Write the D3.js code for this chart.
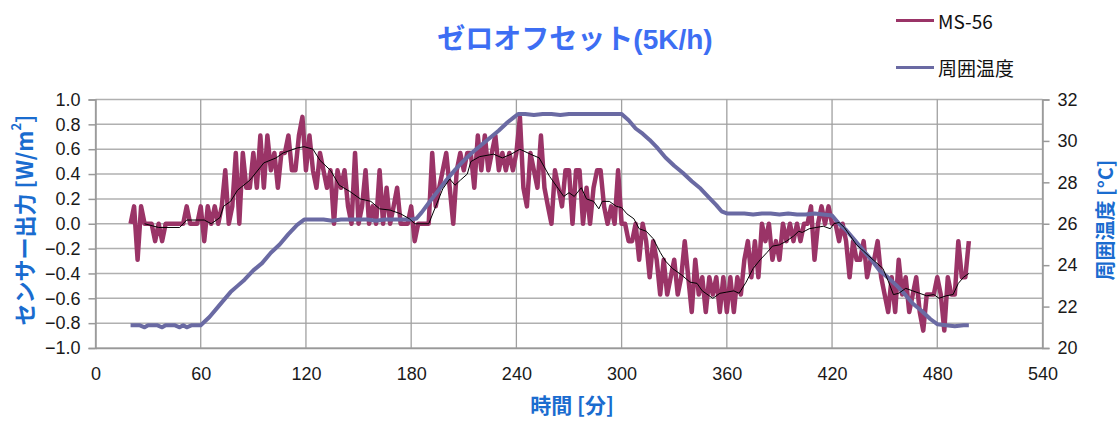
<!DOCTYPE html>
<html><head><meta charset="utf-8">
<script src="https://cdn.jsdelivr.net/npm/d3@7"></script>
<style>
html,body{margin:0;padding:0;background:#fff;}
svg{display:block;}
</style></head>
<body>
<svg id="chart" width="1120" height="421"></svg>
<script>
// ---- data ----
const chartTitle = "ゼロオフセット(5K/h)";
const seriesNames = ["MS-56", "周囲温度"];
const xTicks = [0, 60, 120, 180, 240, 300, 360, 420, 480, 540];
const yLeftTicks = [-1.0, -0.8, -0.6, -0.4, -0.2, 0.0, 0.2, 0.4, 0.6, 0.8, 1.0];
const yRightTicks = [20, 22, 24, 26, 28, 30, 32];

// MS-56 sensor output, sampled every 2 min from minute 20
const msTimes = d3.range(20, 500, 2);
const msValues = [
 0, 0.14, -0.29, 0.14, 0, 0, 0, -0.14, 0, -0.14,
 0, 0, 0, 0, 0, 0, 0.14, 0, 0, 0,
 0.14, -0.14, 0.14, 0, 0.14, 0, 0.14, 0.43, 0, 0.14,
 0.57, 0, 0.57, 0.29, 0.29, 0.57, 0.29, 0.71, 0.29, 0.71,
 0.43, 0.57, 0.29, 0.57, 0.57, 0.71, 0.43, 0.43, 0.71, 0.86,
 0.43, 0.71, 0.43, 0.29, 0.57, 0.43, 0.29, 0.43, 0, 0.43,
 0.29, 0.43, 0.14, 0, 0.57, 0, 0.14, 0.43, 0, 0.14,
 0, 0.43, 0, 0.29, 0, 0.14, 0.29, 0, 0, 0,
 0.14, -0.14, 0, 0, 0, 0, 0.57, 0.14, 0.29, 0.43,
 0.57, 0.29, 0, 0.43, 0.57, 0.43, 0.57, 0.57, 0.29, 0.71,
 0.43, 0.71, 0.43, 0.57, 0.71, 0.43, 0.57, 0.43, 0.57, 0.43,
 0.57, 0.86, 0.29, 0.14, 0.57, 0.43, 0.29, 0.71, 0.29, 0.14,
 0, 0.43, 0.29, 0.14, 0.43, 0.43, 0, 0.43, 0.43, 0,
 0.29, 0, 0.29, 0.43, 0.43, 0.14, 0, 0.14, 0, 0.43,
 0, 0, -0.14, -0.14, 0, -0.29, 0, -0.14, -0.43, -0.14,
 -0.29, -0.57, -0.29, -0.57, -0.43, -0.29, -0.57, -0.43, -0.14, -0.43,
 -0.71, -0.29, -0.57, -0.43, -0.71, -0.43, -0.57, -0.43, -0.71, -0.43,
 -0.71, -0.43, -0.71, -0.43, -0.57, -0.29, -0.14, -0.43, -0.14, -0.43,
 0, -0.14, 0, -0.29, -0.14, -0.29, 0, -0.14, 0, -0.14,
 0, -0.14, 0, 0, 0.14, -0.29, 0, 0.14, 0, 0.14,
 0, 0, -0.14, 0, -0.14, -0.43, -0.14, -0.29, -0.29, -0.14,
 -0.43, -0.29, -0.29, -0.14, -0.43, -0.57, -0.71, -0.43, -0.71, -0.29,
 -0.57, -0.43, -0.71, -0.57, -0.43, -0.71, -0.86, -0.57, -0.57, -0.57,
 -0.43, -0.57, -0.86, -0.43, -0.57, -0.57, -0.14, -0.43, -0.43, -0.14
];

// moving-average trend of MS-56 (thin black line)
const trendTimes = [28,36,48,52,62,66,71,73,77,81,88,96,103,107,115,119,124,128,134,139,145,151,157,162,168,174,179,182,190,194,198,202,205,208,212,214,219,227,232,237,242,248,253,259,263,267,270,273,277,280,284,287,289,293,297,300,303,307,310,314,318,322,325,329,334,339,343,346,352,356,360,364,367,371,375,379,383,386,390,394,398,401,403,407,411,415,419,421,424,427,430,434,438,441,445,449,452,455,458,462,466,470,474,478,481,485,489,492,495,498];
const trendValues = [0,-0.03,-0.03,0.03,0.03,0,0.05,0.14,0.18,0.27,0.35,0.49,0.53,0.57,0.61,0.62,0.6,0.51,0.43,0.31,0.26,0.2,0.18,0.12,0.11,0.08,0.04,0,0,0.14,0.28,0.36,0.31,0.35,0.4,0.5,0.54,0.56,0.53,0.56,0.6,0.56,0.53,0.38,0.3,0.22,0.25,0.22,0.29,0.2,0.18,0.12,0.18,0.18,0.14,0.13,0.08,0.04,-0.04,-0.06,-0.12,-0.23,-0.3,-0.36,-0.41,-0.47,-0.48,-0.54,-0.6,-0.56,-0.55,-0.54,-0.56,-0.47,-0.36,-0.29,-0.23,-0.18,-0.17,-0.14,-0.1,-0.06,-0.07,-0.04,-0.03,-0.02,-0.04,0,0.01,-0.03,-0.09,-0.17,-0.22,-0.26,-0.31,-0.36,-0.46,-0.57,-0.56,-0.52,-0.54,-0.56,-0.58,-0.57,-0.6,-0.58,-0.57,-0.48,-0.43,-0.4];

// ambient temperature [°C]
const tempTimes = [20,25,28,30,35,38,40,45,48,50,52,55,60,65,70,73,77,81,85,90,95,100,105,110,115,119,125,130,135,140,150,155,160,165,170,175,180,183,186,190,195,200,205,210,215,220,225,230,235,238,241,245,250,255,260,265,270,275,280,285,290,295,300,304,308,312,316,320,325,330,335,340,345,350,354,357,360,365,370,375,380,385,390,395,400,405,410,415,420,424,428,433,438,443,447,452,457,462,466,471,476,480,485,490,495,498];
const tempValues = [21.1,21.1,21.0,21.1,21.1,21.0,21.1,21.1,21.0,21.1,21.0,21.1,21.1,21.5,22.0,22.3,22.7,23.0,23.3,23.75,24.1,24.6,25.0,25.5,25.95,26.2,26.2,26.2,26.15,26.2,26.2,26.2,26.15,26.2,26.2,26.2,26.2,26.25,26.55,27.0,27.55,28.1,28.6,29.05,29.45,29.8,30.15,30.5,30.9,31.1,31.3,31.3,31.25,31.3,31.3,31.25,31.3,31.3,31.3,31.3,31.3,31.3,31.3,31.0,30.6,30.35,30.05,29.7,29.2,28.8,28.45,28.05,27.7,27.25,26.9,26.6,26.5,26.5,26.5,26.45,26.5,26.5,26.45,26.5,26.45,26.45,26.5,26.45,26.4,26.0,25.7,25.2,24.7,24.2,23.75,23.4,23.0,22.55,22.15,21.8,21.4,21.15,21.1,21.05,21.1,21.1];

// ---- drawing ----
const svg = d3.select("#chart");
const L = 95.5, R = 1042.5, T = 99.5, B = 348;
const x = d3.scaleLinear().domain([0, 540]).range([L, R]);
const yL = d3.scaleLinear().domain([-1, 1]).range([B, T]);
const yR = d3.scaleLinear().domain([20, 32]).range([B, T]);

const gridColor = "#b0b0b0";
const textFont = "'Liberation Sans', 'Noto Sans CJK JP', sans-serif";
const jpFont = "'Noto Sans CJK JP', 'Liberation Sans', sans-serif";

// horizontal gridlines
svg.append("g").selectAll("line").data(yLeftTicks).join("line")
  .attr("x1", L).attr("x2", R)
  .attr("y1", d => yL(d)).attr("y2", d => yL(d))
  .attr("stroke", gridColor).attr("stroke-width", 1.5);
// vertical gridlines
svg.append("g").selectAll("line").data(xTicks).join("line")
  .attr("x1", d => x(d)).attr("x2", d => x(d))
  .attr("y1", T).attr("y2", B)
  .attr("stroke", "#a0a0a0").attr("stroke-width", 1.3);

// left axis
const axL = svg.append("g").attr("transform", `translate(${L},0)`)
  .call(d3.axisLeft(yL).tickValues(yLeftTicks).tickFormat(d3.format(".1f")).tickSize(7).tickPadding(8));
// right axis
const axR = svg.append("g").attr("transform", `translate(${R},0)`)
  .call(d3.axisRight(yR).tickValues(yRightTicks).tickFormat(d3.format("d")).tickSize(7).tickPadding(8));
// bottom axis
const axB = svg.append("g").attr("transform", `translate(0,${B})`)
  .call(d3.axisBottom(x).tickValues(xTicks).tickFormat(d3.format("d")).tickSize(0).tickPadding(19));
[axL, axR, axB].forEach(a => {
  a.select(".domain").attr("stroke", "#999").attr("stroke-width", 1.5);
  a.selectAll(".tick line").attr("stroke", "#999").attr("stroke-width", 1.5);
  a.selectAll("text").attr("font-family", textFont).attr("font-size", 18).attr("fill", "#1a1a1a");
});

// series lines
const msLine = d3.line().x((d, i) => x(msTimes[i])).y(d => yL(d));
svg.append("path").datum(msValues).attr("d", msLine)
  .attr("fill", "none").attr("stroke", "#9a3467").attr("stroke-width", 4.5)
  .attr("stroke-linejoin", "round");

const tLine = d3.line().x((d, i) => x(tempTimes[i])).y(d => yR(d));
svg.append("path").datum(tempValues).attr("d", tLine)
  .attr("fill", "none").attr("stroke", "#6a6aa3").attr("stroke-width", 4)
  .attr("stroke-linejoin", "round");

const trLine = d3.line().x((d, i) => x(trendTimes[i])).y(d => yL(d));
svg.append("path").datum(trendValues).attr("d", trLine)
  .attr("fill", "none").attr("stroke", "#000").attr("stroke-width", 1);

// title
svg.append("text").attr("x", 575).attr("y", 39).attr("text-anchor", "middle")
  .attr("dominant-baseline", "central")
  .attr("font-family", textFont).attr("font-weight", "bold").attr("font-size", 28)
  .attr("fill", "#3d6ef3").text(chartTitle);

// axis titles
const axisTitleColor = "#1a6ccf";
const lt = svg.append("text").attr("transform", "translate(23,220) rotate(-90)")
  .attr("text-anchor", "middle").attr("dominant-baseline", "central")
  .attr("font-family", jpFont).attr("font-weight", "bold").attr("font-size", 22)
  .attr("fill", axisTitleColor);
lt.append("tspan").text("センサー出力 [W/m");
lt.append("tspan").attr("font-size", 13).attr("dy", -8).text("2");
lt.append("tspan").attr("dy", 8).text("]");

svg.append("text").attr("transform", "translate(1104,220) rotate(-90)")
  .attr("text-anchor", "middle").attr("dominant-baseline", "central")
  .attr("font-family", jpFont).attr("font-weight", "bold").attr("font-size", 20)
  .attr("fill", axisTitleColor).text("周囲温度 [°C]");

svg.append("text").attr("x", 572).attr("y", 413).attr("text-anchor", "middle")
  .attr("font-family", jpFont).attr("font-weight", "bold").attr("font-size", 21)
  .attr("fill", axisTitleColor).text("時間 [分]");

// legend
const legendColors = ["#9a3467", "#6a6aa3"];
const legendY = [20.5, 67.5];
seriesNames.forEach((name, i) => {
  svg.append("line").attr("x1", 896).attr("x2", 934)
    .attr("y1", legendY[i]).attr("y2", legendY[i])
    .attr("stroke", legendColors[i]).attr("stroke-width", 3);
  svg.append("text").attr("x", 938).attr("y", legendY[i])
    .attr("dominant-baseline", "central")
    .attr("font-family", jpFont).attr("font-size", 19).attr("fill", "#111")
    .text(name);
});
</script>
</body></html>
